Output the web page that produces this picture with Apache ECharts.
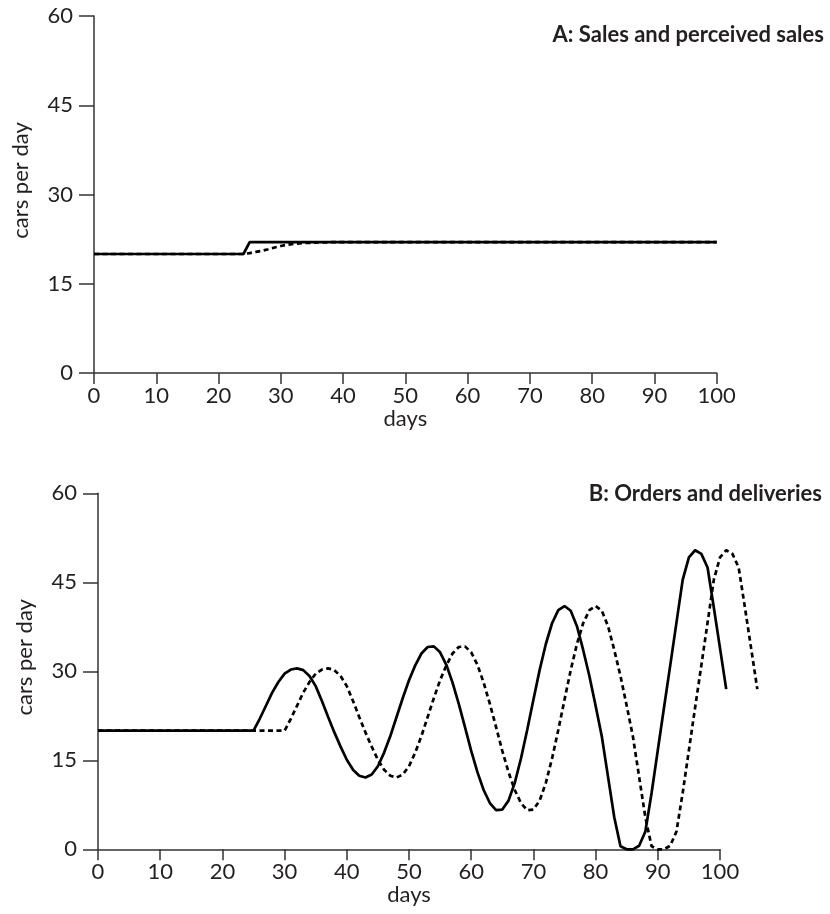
<!DOCTYPE html>
<html>
<head>
<meta charset="utf-8">
<script src="https://cdn.jsdelivr.net/npm/echarts@6/dist/echarts.min.js"></script>
<style>
  html, body { margin: 0; padding: 0; background: #fff; }
  #chart { width: 830px; height: 914px; }
</style>
</head>
<body>
<div id="chart"></div>
<script>
// panel A: sales and perceived sales
const salesDays = [0, 24, 25, 100];
const salesValues = [20, 20, 22, 22];
const perceivedDays = [0, 24, 25, 26, 27, 28, 29, 30, 31, 32, 34, 36, 38, 40, 100];
const perceivedValues = [20, 20, 20.15, 20.35, 20.55, 20.8, 21.1, 21.35, 21.55, 21.7, 21.85, 21.93, 21.98, 22, 22];

// panel B: orders and deliveries (the curves run on past day 100)
const orderDays = [0, 25, 26, 27, 28, 29, 30, 31, 32, 33, 34, 35, 36, 37, 38, 39, 40,
  41, 42, 43, 44, 45, 46, 47, 48, 49, 50, 51, 52, 53, 54, 55, 56, 57, 58, 59, 60,
  61, 62, 63, 64, 65, 66, 67, 68, 69, 70, 71, 72, 73, 74, 75, 76, 77, 78, 79, 80,
  81, 82, 83, 84, 85, 86, 87, 88, 89, 90, 91, 92, 93, 94, 95, 96, 97, 98, 99, 100, 101];
const orderValues = [20, 20, 22.0, 24.2, 26.4, 28.2, 29.6, 30.3, 30.5, 30.2, 29.2, 27.5, 25.0, 22.3, 19.7, 17.3, 15.1,
  13.4, 12.4, 12.1, 12.6, 14.0, 16.3, 19.1, 22.3, 25.5, 28.5, 31.0, 33.0, 34.1, 34.2, 33.2, 31.1, 28.1, 24.5, 20.6, 16.6,
  13.0, 10.0, 7.8, 6.6, 6.7, 8.2, 11.2, 15.3, 20.1, 25.2, 30.2, 34.6, 38.1, 40.3, 41.0, 40.2, 37.6, 33.6, 29.2, 24.2,
  19.0, 12.2, 5.4, 0.5, 0, 0, 0.6, 3.0, 9.5, 16.7, 23.9, 31.0, 38.2, 45.4, 49.2, 50.4, 49.8, 47.5, 40.8, 33.9, 27.0];
const deliveryDays = [0, 30, 31, 32, 33, 34, 35, 36, 37, 38, 39, 40, 41, 42, 43, 44, 45,
  46, 47, 48, 49, 50, 51, 52, 53, 54, 55, 56, 57, 58, 59, 60, 61, 62, 63, 64, 65,
  66, 67, 68, 69, 70, 71, 72, 73, 74, 75, 76, 77, 78, 79, 80, 81, 82, 83, 84, 85,
  86, 87, 88, 89, 90, 91, 92, 93, 94, 95, 96, 97, 98, 99, 100, 101, 102, 103, 104, 105, 106];
const deliveryValues = [20, 20, 22.0, 24.2, 26.4, 28.2, 29.6, 30.3, 30.5, 30.2, 29.2, 27.5, 25.0, 22.3, 19.7, 17.3, 15.1,
  13.4, 12.4, 12.1, 12.6, 14.0, 16.3, 19.1, 22.3, 25.5, 28.5, 31.0, 33.0, 34.1, 34.2, 33.2, 31.1, 28.1, 24.5, 20.6, 16.6,
  13.0, 10.0, 7.8, 6.6, 6.7, 8.2, 11.2, 15.3, 20.1, 25.2, 30.2, 34.6, 38.1, 40.3, 41.0, 40.2, 37.6, 33.6, 29.2, 24.2,
  19.0, 12.2, 5.4, 0.5, 0, 0, 0.6, 3.0, 9.5, 16.7, 23.9, 31.0, 38.2, 45.4, 49.2, 50.4, 49.8, 47.5, 40.8, 33.9, 27.0];

const panelTitles = ['A: Sales and perceived sales', 'B: Orders and deliveries'];
const yTicks = [0, 15, 30, 45, 60];
const xTicks = [0, 10, 20, 30, 40, 50, 60, 70, 80, 90, 100];
const xOverrun = 107; // hidden data axis of panel B reaches this far

const FONT = 'Lato';
const INK = '#231f20';

function pairs(xs, ys) {
  return xs.map((x, i) => [x, ys[i]]);
}

function xAxisFor(idx) {
  return {
    type: 'value', gridIndex: idx,
    min: xTicks[0], max: xTicks[xTicks.length - 1], interval: 10,
    name: 'days', nameLocation: 'middle', nameGap: 30,
    nameTextStyle: { color: INK, fontSize: 22, fontFamily: FONT },
    axisLine: { lineStyle: { color: '#333', width: 1.5 } },
    axisTick: { length: 11, lineStyle: { color: '#333', width: 1.5 } },
    axisLabel: { color: INK, fontSize: 22, fontFamily: FONT, margin: 12 },
    splitLine: { show: false }
  };
}

function yAxisFor(idx) {
  return {
    type: 'value', gridIndex: idx,
    min: yTicks[0], max: yTicks[yTicks.length - 1], interval: 15,
    name: 'cars per day', nameLocation: 'middle', nameGap: 62, nameRotate: 90,
    nameTextStyle: { color: INK, fontSize: 22, fontFamily: FONT, padding: [0, 0, 0, 28] },
    axisLine: { lineStyle: { color: '#333', width: 1.5 } },
    axisTick: { length: 15, lineStyle: { color: '#333', width: 1.5 } },
    axisLabel: { color: INK, fontSize: 22, fontFamily: FONT, margin: 21 },
    splitLine: { show: false }
  };
}

function lineSeries(idx, data, dashed) {
  return {
    type: 'line', xAxisIndex: idx, yAxisIndex: idx,
    data: data, showSymbol: false, clip: false, animation: false,
    lineStyle: { color: '#000', width: 2.7, type: dashed ? [5, 3.5] : 'solid' }
  };
}

const chart = echarts.init(document.getElementById('chart'));
chart.setOption({
  backgroundColor: '#fff',
  animation: false,
  title: [
    { text: panelTitles[0], right: 1, top: 19,
      textStyle: { color: INK, fontSize: 22, fontWeight: 'bold', fontFamily: FONT } },
    { text: panelTitles[1], right: 3, top: 478,
      textStyle: { color: INK, fontSize: 22, fontWeight: 'bold', fontFamily: FONT } }
  ],
  grid: [
    { left: 94, top: 16, width: 622.7, height: 357 },
    { left: 98, top: 493.3, width: 622, height: 356 },
    // same plot area as panel B, stretched so the curves can run past day 100
    { left: 98, top: 493.3, width: 622 * xOverrun / 100, height: 356 }
  ],
  xAxis: [xAxisFor(0), xAxisFor(1),
    { type: 'value', gridIndex: 2, min: 0, max: xOverrun, show: false }],
  yAxis: [yAxisFor(0), yAxisFor(1),
    { type: 'value', gridIndex: 2, min: 0, max: 60, show: false }],
  series: [
    lineSeries(0, pairs(perceivedDays, perceivedValues), true),
    lineSeries(0, pairs(salesDays, salesValues), false),
    lineSeries(2, pairs(deliveryDays, deliveryValues), true),
    lineSeries(2, pairs(orderDays, orderValues), false)
  ]
});
</script>
</body>
</html>
